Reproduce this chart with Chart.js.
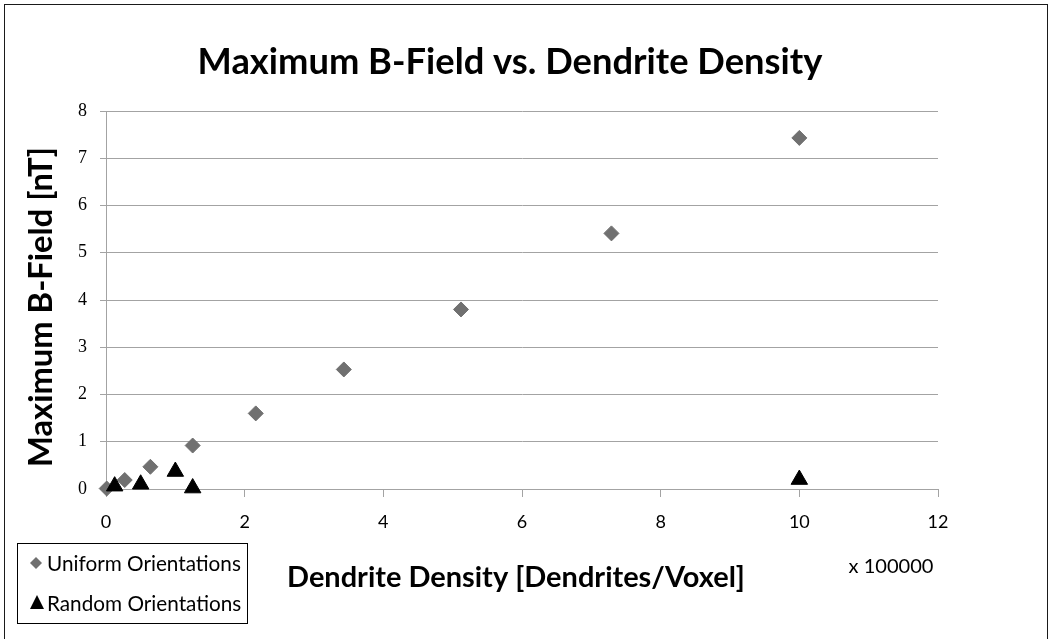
<!DOCTYPE html>
<html>
<head>
<meta charset="utf-8">
<script src="https://cdn.jsdelivr.net/npm/chart.js@4/dist/chart.umd.min.js"></script>
<style>
  html, body { margin: 0; padding: 0; background: #fff; }
  #wrap { width: 1050px; height: 639px; position: relative; }
</style>
</head>
<body>
<div id="wrap"><canvas id="c" width="1050" height="639"></canvas></div>
<script>
// ---- data (x in units of 100000 dendrites/voxel, y in nT) ----
const uniformX = [0.01, 0.27, 0.64, 1.25, 2.16, 3.43, 5.12, 7.29, 10.0];
const uniformY = [0.01, 0.19, 0.47, 0.92, 1.60, 2.53, 3.80, 5.41, 7.43];
const randomX  = [0.125, 0.5, 1.0, 1.25, 10.0];
const randomY  = [0.06, 0.10, 0.37, 0.02, 0.20];
const seriesNames = ["Uniform Orientations", "Random Orientations"];
const chartTitle = "Maximum B-Field vs. Dendrite Density";
const xTitle = "Dendrite Density [Dendrites/Voxel]";
const yTitle = "Maximum B-Field [nT]";
const xMultiplier = "x 100000";
const xTicks = [0, 2, 4, 6, 8, 10, 12];
const yTicks = [0, 1, 2, 3, 4, 5, 6, 7, 8];

const SANS = "Lato, 'Open Sans', sans-serif";
const SERIF = "'Liberation Serif', 'DejaVu Serif', serif";
const DIAMOND = '#707070';
const GRID = '#a3a3a3';

function toPts(xs, ys) { return xs.map((x, i) => ({ x: x, y: ys[i] })); }

function fitSize(ctx, text, weight, family, targetW) {
  ctx.font = weight + ' 100px ' + family;
  return 100 * targetW / ctx.measureText(text).width;
}

const decor = {
  id: 'decor',
  beforeDraw(chart) {
    const ctx = chart.ctx;
    ctx.save();
    ctx.fillStyle = '#fff';
    ctx.fillRect(0, 0, chart.width, chart.height);
    ctx.restore();
  },
  afterDraw(chart) {
    const ctx = chart.ctx;
    ctx.save();
    // outer frame
    ctx.strokeStyle = '#1a1a1a';
    ctx.lineWidth = 1;
    ctx.strokeRect(4.5, 4.5, 1043, 660);

    ctx.fillStyle = '#000';
    ctx.textBaseline = 'middle';
    ctx.textAlign = 'center';
    // title
    let s = fitSize(ctx, chartTitle, 'bold', SANS, 625);
    ctx.font = 'bold ' + s + 'px ' + SANS;
    ctx.fillText(chartTitle, 510, 62);
    // x axis title
    s = fitSize(ctx, xTitle, 'bold', SANS, 458);
    ctx.font = 'bold ' + s + 'px ' + SANS;
    ctx.fillText(xTitle, 516, 578);
    // multiplier
    s = fitSize(ctx, xMultiplier, 'normal', SANS, 85);
    ctx.font = 'normal ' + s + 'px ' + SANS;
    ctx.fillText(xMultiplier, 891, 567);
    // y axis title
    ctx.save();
    ctx.translate(41, 307);
    ctx.rotate(-Math.PI / 2);
    s = fitSize(ctx, yTitle, 'bold', SANS, 320);
    ctx.font = 'bold ' + s + 'px ' + SANS;
    ctx.fillText(yTitle, 0, 0);
    ctx.restore();

    // legend
    ctx.strokeStyle = '#000';
    ctx.lineWidth = 1;
    ctx.strokeRect(17.5, 543.5, 230, 80);
    ctx.textAlign = 'left';
    s = fitSize(ctx, seriesNames[0], 'normal', SANS, 194);
    ctx.font = 'normal ' + s + 'px ' + SANS;
    ctx.fillText(seriesNames[0], 47, 564);
    ctx.fillText(seriesNames[1], 47, 604);
    // legend markers
    ctx.fillStyle = DIAMOND;
    ctx.beginPath();
    ctx.moveTo(36, 557); ctx.lineTo(42, 563); ctx.lineTo(36, 569); ctx.lineTo(30, 563);
    ctx.closePath(); ctx.fill();
    ctx.fillStyle = '#000';
    ctx.beginPath();
    ctx.moveTo(37, 595); ctx.lineTo(44, 609); ctx.lineTo(30, 609);
    ctx.closePath(); ctx.fill();
    ctx.restore();
  }
};

new Chart(document.getElementById('c'), {
  type: 'scatter',
  data: {
    datasets: [
      {
        label: seriesNames[1],
        data: toPts(randomX, randomY),
        pointStyle: 'triangle',
        pointRadius: 9.5,
        pointHoverRadius: 9.5,
        backgroundColor: '#000',
        borderColor: '#000',
        borderWidth: 1,
        clip: false
      },
      {
        label: seriesNames[0],
        data: toPts(uniformX, uniformY),
        pointStyle: 'rectRot',
        pointRadius: 7.5,
        pointHoverRadius: 7.5,
        backgroundColor: DIAMOND,
        borderColor: DIAMOND,
        borderWidth: 1,
        clip: false
      }
    ]
  },
  options: {
    responsive: false,
    animation: false,
    events: [],
    layout: { padding: { left: 0, top: 111, right: 112, bottom: 0 } },
    plugins: {
      legend: { display: false },
      title: { display: false },
      tooltip: { enabled: false }
    },
    scales: {
      x: {
        type: 'linear',
        min: xTicks[0],
        max: xTicks[xTicks.length - 1],
        afterBuildTicks: (sc) => { sc.ticks = xTicks.map(v => ({ value: v })); },
        afterFit: (sc) => { sc.height = 150; },
        ticks: {
          color: '#000',
          font: { family: SANS, size: 18 },
          padding: 14,
          maxRotation: 0
        },
        grid: {
          drawOnChartArea: false,
          drawTicks: true,
          tickLength: 8,
          color: GRID,
          lineWidth: 1
        },
        border: { display: true, color: GRID, width: 1 }
      },
      y: {
        type: 'linear',
        min: yTicks[0],
        max: yTicks[yTicks.length - 1],
        afterBuildTicks: (sc) => { sc.ticks = yTicks.map(v => ({ value: v })); },
        afterFit: (sc) => { sc.width = 106; },
        ticks: {
          color: '#000',
          font: { family: SERIF, size: 18 },
          padding: 13
        },
        grid: {
          drawOnChartArea: true,
          drawTicks: true,
          tickLength: 6,
          color: GRID,
          lineWidth: 1
        },
        border: { display: true, color: GRID, width: 1 }
      }
    }
  },
  plugins: [decor]
});
</script>
</body>
</html>
